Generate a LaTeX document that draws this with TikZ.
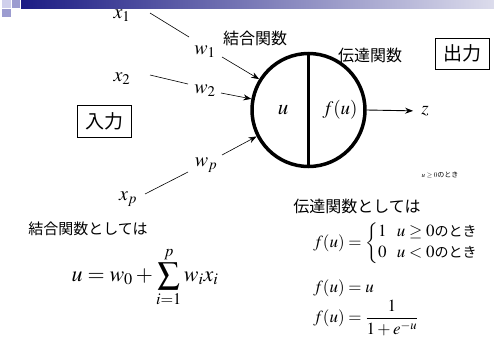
\documentclass[tikz,border=0pt]{standalone}
\usepackage{amsmath}
\usepackage{mathptmx}
\usepackage{fontspec}
\setmainfont{Liberation Serif}
\newfontfamily\jp{Noto Sans CJK JP}
\usetikzlibrary{arrows.meta}
\definecolor{navy}{HTML}{1C1C84}
\definecolor{barend}{HTML}{DCDCEC}
\definecolor{sqlight}{HTML}{D0D0EC}
\definecolor{sqmid}{HTML}{9C9CD0}
\newcommand{\jtoki}{\mbox{\jp\fontsize{14}{14}\selectfont のとき}}
\begin{document}
\begin{tikzpicture}[x=1pt,y=-1pt,
  lbl/.style={inner sep=0pt,font=\fontsize{20}{20}\selectfont},
  jlabel/.style={inner sep=0pt,font=\jp\fontsize{16}{16}\selectfont},
  jbox/.style={draw,line width=0.8pt,inner sep=0pt,minimum width=54pt,minimum height=32pt,font=\jp\fontsize{19}{19}\selectfont},
  conn/.style={line width=0.6pt},
  arr/.style={line width=0.6pt,-{Stealth[length=8pt,width=6pt]}},
  eq/.style={inner sep=0pt,anchor=west,font=\fontsize{17}{22}\selectfont},
]
\useasboundingbox (0,0) rectangle (494,343);
% header decoration
\fill[sqlight] (2,0) rectangle (11,8);
\fill[sqmid] (12,0) rectangle (20,8);
\fill[sqmid] (2,9) rectangle (11,17);
\shade[left color=navy,right color=barend] (21,0) rectangle (494,8);

% neuron
\node[circle,draw,line width=3.5pt,minimum size=113pt,inner sep=0pt] (neuron) at (308.5,110) {};
\draw[line width=3.5pt] (neuron.north) -- (neuron.south);
\node[inner sep=0pt,font=\fontsize{21}{21}\selectfont] (uin) at (283,110) {$u$};
\node[inner sep=0pt,font=\fontsize{19}{19}\selectfont] (fu) at (340,110) {$f(u)$};

% inputs
\node[lbl] (x1) at (122,16) {$x_1$};
\node[lbl] (x2) at (122,79) {$x_2$};
\node[lbl] (xp) at (128,199) {$x_p$};
\node[lbl] (w1) at (205,52) {$w_1$};
\node[lbl] (w2) at (205,91) {$w_2$};
\node[lbl] (wp) at (206,165) {$w_p$};

\coordinate (x1e) at (150,13);
\coordinate (w1i) at (189,37);
\coordinate (x2e) at (150,75);
\coordinate (w2i) at (188,84);
\coordinate (xpe) at (145,194);
\coordinate (wpi) at (188,172);
\draw[conn] (x1e) -- (w1i);
\draw[conn] (x2e) -- (w2i);
\draw[conn] (xpe) -- (wpi);

\coordinate (w1o) at (222,57);
\coordinate (w2o) at (221,93);
\coordinate (wpo) at (222,155);
\draw[arr] (w1o) -- (neuron.148);
\draw[arr] (w2o) -- (neuron.169);
\draw[arr] (wpo) -- (neuron.207);

% output
\node[lbl,font=\fontsize{19}{19}\selectfont] (z) at (425,111) {$z$};
\draw[arr,line width=0.9pt,shorten >=8pt] (neuron.east) -- (z.west);

% labels
\node[jlabel] (comb) at (255,38) {結合関数};
\node[jlabel] (trans) at (370,55) {伝達関数};
\node[jbox] (inbox) at (104,121) {入力};
\node[jbox,minimum height=31pt] (outbox) at (462,53.5) {出力};
\node[inner sep=0pt,font=\fontsize{7}{7}\selectfont] (cond) at (440,175) {$u\geq 0$\jp のとき};

% formulas
\node[jlabel,font=\jp\fontsize{15}{15}\selectfont] (combT) at (88,229) {結合関数としては};
\node[inner sep=0pt,font=\fontsize{22}{22}\selectfont] (eqU) at (145,277) {$\displaystyle u = w_0 + \sum_{i=1}^{p} w_i x_i$};
\node[jlabel] (transT) at (357,206) {伝達関数としては};
\node[eq] (eqF1) at (313,243) {$f(u)=\left\{\renewcommand{\arraystretch}{0.95}\begin{array}{@{}l@{\hspace{0.6em}}l@{}}1 & u\geq 0\jtoki\\ 0 & u<0\jtoki\end{array}\right.$};
\node[eq] (eqF2) at (313,288) {$f(u)=u$};
\node[eq] (eqF3) at (313,318) {$f(u)=\dfrac{1}{1+e^{-u}}$};
\end{tikzpicture}
\end{document}
